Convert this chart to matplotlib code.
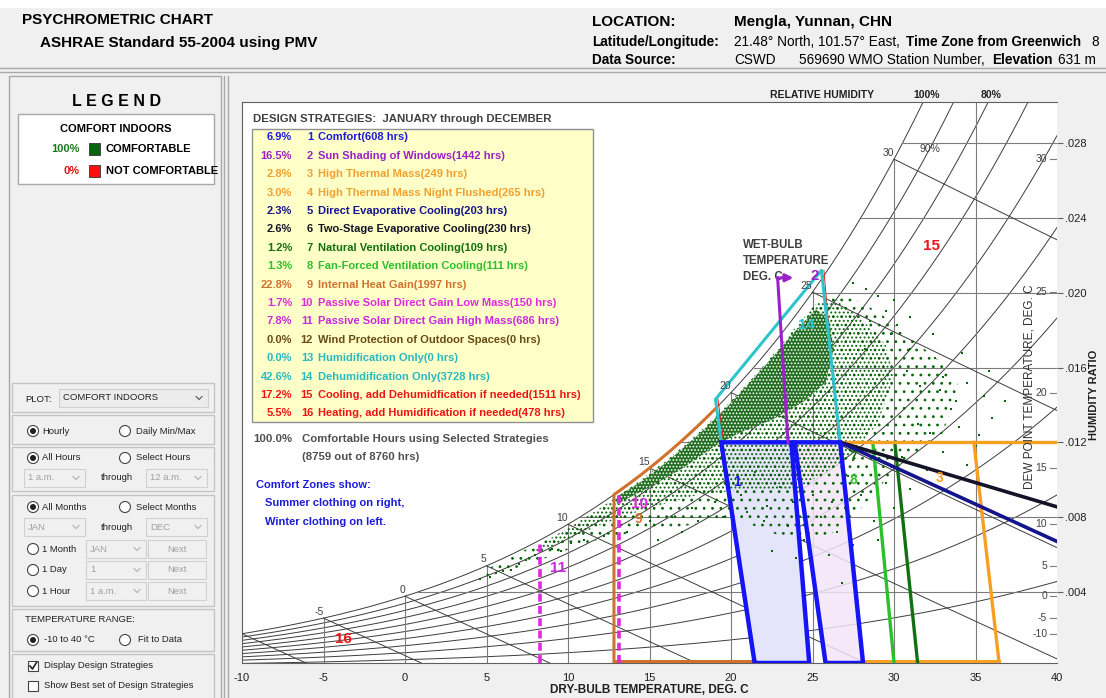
import numpy as np
import matplotlib.pyplot as plt
from matplotlib.patches import Rectangle, Polygon, Circle
from matplotlib.transforms import offset_copy, blended_transform_factory

plt.rcParams['font.family'] = ['Liberation Sans', 'DejaVu Sans']

# ------------------------------------------------------------------
# values
# ------------------------------------------------------------------
strategy_pct = ['6.9%', '16.5%', '2.8%', '3.0%', '2.3%', '2.6%', '1.2%', '1.3%',
                '22.8%', '1.7%', '7.8%', '0.0%', '0.0%', '42.6%', '17.2%', '5.5%']
strategy_names = ['Comfort(608 hrs)',
                  'Sun Shading of Windows(1442 hrs)',
                  'High Thermal Mass(249 hrs)',
                  'High Thermal Mass Night Flushed(265 hrs)',
                  'Direct Evaporative Cooling(203 hrs)',
                  'Two-Stage Evaporative Cooling(230 hrs)',
                  'Natural Ventilation Cooling(109 hrs)',
                  'Fan-Forced Ventilation Cooling(111 hrs)',
                  'Internal Heat Gain(1997 hrs)',
                  'Passive Solar Direct Gain Low Mass(150 hrs)',
                  'Passive Solar Direct Gain High Mass(686 hrs)',
                  'Wind Protection of Outdoor Spaces(0 hrs)',
                  'Humidification Only(0 hrs)',
                  'Dehumidification Only(3728 hrs)',
                  'Cooling, add Dehumidfication if needed(1511 hrs)',
                  'Heating, add Humidification if needed(478 hrs)']
strategy_colors = ['#1c1cd8', '#9a22c8', '#f0a030', '#f0a030', '#14148c', '#141428',
                   '#127012', '#2cc02c', '#d0722e', '#e028e0', '#c828e0', '#6a4a14',
                   '#28b8c0', '#28b8c0', '#ee1414', '#ee1414']

x_ticks = [-10, -5, 0, 5, 10, 15, 20, 25, 30, 35, 40]
w_ticks = [0.004, 0.008, 0.012, 0.016, 0.020, 0.024, 0.028]
rh_levels = [0.1, 0.2, 0.3, 0.4, 0.5, 0.6, 0.7, 0.8, 0.9, 1.0]
wb_levels = [-10, -5, 0, 5, 10, 15, 20, 25, 30]
dp_levels = [-10, -5, 0, 5, 10, 15, 20, 25, 30]

# design strategy zones (dry bulb deg C, humidity ratio)
winter_t = [19.4, 23.7, 24.8, 21.45]
winter_w = [0.012, 0.012, 0.0002, 0.0002]
summer_t = [23.9, 26.7, 28.1, 25.8]
summer_w = [0.012, 0.012, 0.0002, 0.0002]
dehum_t = [19.4, 19.05, 25.55, 26.7]
dehum_w = [0.012, 0.0143, 0.0212, 0.012]
shade_t = [23.5, 22.86, 24.0]
shade_w = [0.012, 0.0208, 0.0208]
heat_gain_t = [12.82, 19.05]
solar_low_t = 13.13
solar_high_t = 8.26
fan_t = [28.7, 30.0]
natvent_t = [30.05, 31.45]
vent_w = [0.012, 0.0002]
mass_t = [26.7, 40.0]
mass_w = [0.012, 0.012]
mass_edge_t = [34.9, 36.45]
mass_edge_w = [0.012, 0.0002]
evap_t = [26.7, 40.0]
evap_w = [0.012, 0.0067]
twostage_w = [0.012, 0.00855]

# hourly weather points: dense body outlined, scattered hours listed
cloud_outer_t = [5.0, 7, 9, 11, 13, 15, 17, 19, 21, 23, 24.5, 25.5, 27, 29, 31, 33, 34,
                 33, 30, 28, 26, 23, 20, 17, 14, 11, 8, 5.0]
cloud_outer_w = [0.0052, 0.0061, 0.0069, 0.0079, 0.0090, 0.0103, 0.0117, 0.0133,
                 0.0151, 0.0170, 0.0187, 0.0197, 0.0199, 0.0190, 0.0176, 0.0162,
                 0.0150, 0.0125, 0.0105, 0.0085, 0.0070, 0.0070, 0.0080, 0.0075,
                 0.0072, 0.0066, 0.0056, 0.0048]
cloud_mid_t = [8, 10, 12, 14, 16, 18, 20, 22, 24, 25.3, 26.5, 28, 29.5, 30, 29, 27,
               24, 21, 18, 15, 12, 9.5, 8]
cloud_mid_w = [0.0064, 0.0074, 0.0085, 0.0097, 0.0110, 0.0125, 0.0142, 0.0161,
               0.0182, 0.0195, 0.0196, 0.0186, 0.0172, 0.0155, 0.0130, 0.0110,
               0.0095, 0.0095, 0.0092, 0.0085, 0.0076, 0.0066, 0.0061]
cloud_core_t = [13, 14.5, 16, 18, 20, 22, 24, 25.2, 26, 26.3, 25.8, 24.5, 22.5, 20.5,
                19, 17, 15, 13]
cloud_core_w = [0.0091, 0.0099, 0.0109, 0.0124, 0.0141, 0.0160, 0.0180, 0.0191,
                0.0186, 0.0170, 0.0152, 0.0142, 0.0132, 0.0125, 0.0118, 0.0106,
                0.0096, 0.0087]
hour_t = [28.5, 29.5, 30.2, 31.0, 32.5, 33.0, 34.5, 35.5, 33.8, 31.5, 32.2, 34.0,
          36.0, 35.0, 33.0, 30.5, 32.0, 34.5, 29.5, 31.0, 28.0, 30.0, 27.0, 25.5,
          28.8, 26.5, 27.5, 29.0, 26.0, 24.5, 23.5, 22.0, 21.0, 20.0, 19.5, 18.0,
          17.0, 15.5, 24.0, 25.0, 26.8, 22.5, 8.0, 6.5, 7.0, 9.0, 5.2, 6.0,
          27.5, 28.3, 29.0, 30.0, 31.0, 33.5, 35.2, 32.8, 30.8, 27.2, 23.0, 21.5,
          36.8, 35.8, 34.2, 32.4, 31.6, 29.8, 28.2, 26.2, 25.0, 23.8, 22.2, 20.6,
          19.0, 17.6, 16.4, 15.0, 13.6, 12.2, 11.0, 10.2, 9.6, 4.6, 5.6, 7.4]
hour_w = [0.0185, 0.0190, 0.0183, 0.0170, 0.0165, 0.0155, 0.0152, 0.0145, 0.0142,
          0.0130, 0.0125, 0.0128, 0.0133, 0.0118, 0.0115, 0.0112, 0.0105, 0.0108,
          0.0098, 0.0095, 0.0092, 0.0085, 0.0085, 0.0080, 0.0078, 0.0072, 0.0065,
          0.0068, 0.0060, 0.0068, 0.0075, 0.0078, 0.0083, 0.0090, 0.0080, 0.0078,
          0.0072, 0.0068, 0.0058, 0.0050, 0.0045, 0.0062, 0.0060, 0.0052, 0.0055,
          0.0063, 0.0048, 0.0051, 0.0205, 0.0202, 0.0198, 0.0196, 0.0187, 0.0138,
          0.0124, 0.0148, 0.0158, 0.0102, 0.0096, 0.0104,
          0.0142, 0.0158, 0.0168, 0.0178, 0.0150, 0.0178, 0.0170, 0.0088, 0.0092,
          0.0088, 0.0086, 0.0092, 0.0088, 0.0085, 0.0080, 0.0078, 0.0072, 0.0070,
          0.0068, 0.0066, 0.0062, 0.0047, 0.0050, 0.0057]

# ------------------------------------------------------------------
# psychrometrics (sea level)
# ------------------------------------------------------------------
P_ATM = 101.325


def p_sat(t):
    return 0.61094 * np.exp(17.625 * t / (t + 243.04))


def w_from_rh(t, rh):
    p = rh * p_sat(t)
    return 0.622 * p / (P_ATM - p)


def t_from_w(w, rh):
    p = P_ATM * w / (0.622 + w) / rh
    a = np.log(p / 0.61094)
    return 243.04 * a / (17.625 - a)


def w_from_wb(t, twb):
    ws = w_from_rh(twb, 1.0)
    return ((2501 - 2.326 * twb) * ws - 1.006 * (t - twb)) / (2501 + 1.86 * t - 4.186 * twb)


# ------------------------------------------------------------------
# figure, background (pixel coordinates) and chart axes
# ------------------------------------------------------------------
fig = plt.figure(figsize=(11.06, 6.98), dpi=100)
fig.patch.set_facecolor('#f0f0f0')

bg = fig.add_axes([0, 0, 1, 1], zorder=0)
bg.set_xlim(0, 1106)
bg.set_ylim(698, 0)
bg.axis('off')

W_TOP = 0.0302
ax = fig.add_axes([242 / 1106, 1 - 663 / 698, 815 / 1106, 561 / 698], zorder=1)
ax.set_xlim(-10, 40)
ax.set_ylim(0.0002, W_TOP)
ax.set_facecolor('white')

ov = fig.add_axes([0, 0, 1, 1], zorder=2)
ov.set_xlim(0, 1106)
ov.set_ylim(698, 0)
ov.axis('off')
ov.patch.set_visible(False)

edge = '#a8a8a8'

# header
bg.add_patch(Rectangle((0, 0), 1106, 8, facecolor='white', edgecolor='none'))
bg.plot([0, 1106], [68, 68], color=edge, lw=1)
bg.plot([0, 1106], [72, 72], color=edge, lw=1)
bg.text(22, 20, 'PSYCHROMETRIC CHART', fontsize=11, fontweight='bold', va='center')
bg.text(40, 43, 'ASHRAE Standard 55-2004 using PMV', fontsize=11, fontweight='bold', va='center')
bg.text(592, 22, 'LOCATION:', fontsize=11, fontweight='bold', va='center')
bg.text(734, 22, 'Mengla, Yunnan, CHN', fontsize=11, fontweight='bold', va='center')
bg.text(592, 42, 'Latitude/Longitude:', fontsize=9.8, fontweight='bold', va='center')
bg.text(734, 42, '21.48° North, 101.57° East,', fontsize=9.8, va='center')
bg.text(906, 42, 'Time Zone from Greenwich', fontsize=9.8, fontweight='bold', va='center')
bg.text(1091, 42, '8', fontsize=9.8, va='center')
bg.text(592, 60, 'Data Source:', fontsize=9.8, fontweight='bold', va='center')
bg.text(734, 60, 'CSWD', fontsize=9.8, va='center')
bg.text(799, 60, '569690 WMO Station Number,', fontsize=9.8, va='center')
bg.text(992, 60, 'Elevation', fontsize=9.8, fontweight='bold', va='center')
bg.text(1058, 60, '631 m', fontsize=9.8, va='center')

# left panel
bg.add_patch(Rectangle((9, 76), 212, 630, facecolor='none', edgecolor=edge, lw=1))
bg.plot([224, 224], [76, 698], color=edge, lw=1)
bg.plot([228, 228], [76, 698], color=edge, lw=1)
bg.text(117, 101, 'L E G E N D', fontsize=11.5, fontweight='bold', ha='center', va='center')
bg.add_patch(Rectangle((18, 114), 196, 70, facecolor='white', edgecolor=edge, lw=1))
bg.text(116, 129, 'COMFORT INDOORS', fontsize=8, fontweight='bold', ha='center', va='center')
bg.text(80, 149, '100%', fontsize=8, fontweight='bold', ha='right', va='center', color='#1a7a1a')
bg.add_patch(Rectangle((89, 143), 11, 12, facecolor='#0a640a', edgecolor='#333333', lw=0.6))
bg.text(106, 149, 'COMFORTABLE', fontsize=8, fontweight='bold', va='center')
bg.text(80, 171, '0%', fontsize=8, fontweight='bold', ha='right', va='center', color='#e01010')
bg.add_patch(Rectangle((89, 165), 11, 12, facecolor='#ff1010', edgecolor='#333333', lw=0.6))
bg.text(106, 171, 'NOT COMFORTABLE', fontsize=8, fontweight='bold', va='center')

wfont = dict(fontsize=6.8, va='center', color='#222222')
gfont = dict(fontsize=6.8, va='center', color='#a0a0a0')


def group(y0, y1):
    bg.add_patch(Rectangle((12, y0), 202, y1 - y0, facecolor='none', edgecolor='#c4c4c4', lw=1))


def radio(x, y, on):
    bg.add_patch(Circle((x, y), 5.5, facecolor='white', edgecolor='#444444', lw=0.8))
    if on:
        bg.add_patch(Circle((x, y), 3, facecolor='#222222', edgecolor='none'))


def box(x0, y0, x1, y1, text, enabled=False, center=False):
    bg.add_patch(Rectangle((x0, y0), x1 - x0, y1 - y0, facecolor='#ececec' if enabled else '#f0f0f0',
                           edgecolor='#d0d0d0', lw=0.8))
    if center:
        bg.text((x0 + x1) / 2, (y0 + y1) / 2, text, ha='center', **gfont)
    else:
        bg.text(x0 + 4, (y0 + y1) / 2, text, **(wfont if enabled else gfont))
        cx = x1 - 9
        cy = (y0 + y1) / 2
        bg.plot([cx - 3, cx, cx + 3], [cy - 1.5, cy + 1.5, cy - 1.5],
                color='#555555' if enabled else '#b0b0b0', lw=0.8)


group(383, 412)
bg.text(25, 399, 'PLOT:', **wfont)
box(59, 389, 208, 407, 'COMFORT INDOORS', enabled=True)

group(415, 444)
radio(33, 431, True)
bg.text(42, 431, 'Hourly', **wfont)
radio(125, 431, False)
bg.text(136, 431, 'Daily Min/Max', **wfont)

group(447, 491)
radio(33, 458, True)
bg.text(42, 458, 'All Hours', **wfont)
radio(125, 458, False)
bg.text(136, 458, 'Select Hours', **wfont)
box(24, 469, 85, 487, '1 a.m.')
bg.text(117, 478, 'through', ha='center', **wfont)
box(146, 469, 207, 487, '12 a.m.')

group(495, 606)
radio(33, 507, True)
bg.text(42, 507, 'All Months', **wfont)
radio(125, 507, False)
bg.text(136, 507, 'Select Months', **wfont)
box(24, 518, 85, 536, 'JAN')
bg.text(117, 527, 'through', ha='center', **wfont)
box(146, 518, 207, 536, 'DEC')
for yy, lab, val in [(549, '1 Month', 'JAN'), (570, '1 Day', '1'), (591, '1 Hour', '1 a.m.')]:
    radio(33, yy, False)
    bg.text(42, yy, lab, **wfont)
    box(86, yy - 9, 146, yy + 9, val)
    box(148, yy - 9, 206, yy + 9, 'Next', center=True)

group(609, 651)
bg.text(25, 620, 'TEMPERATURE RANGE:', **wfont)
radio(33, 640, True)
bg.text(44, 640, '-10 to 40 °C', **wfont)
radio(125, 640, False)
bg.text(138, 640, 'Fit to Data', **wfont)

group(654, 700)
bg.add_patch(Rectangle((28, 661), 10, 10, facecolor='white', edgecolor='#444444', lw=0.8))
bg.plot([30, 32.5, 36.5], [666, 669, 662.5], color='#222222', lw=1.2)
bg.text(44, 666, 'Display Design Strategies', **wfont)
bg.add_patch(Rectangle((28, 681), 10, 10, facecolor='white', edgecolor='#444444', lw=0.8))
bg.text(44, 686, 'Show Best set of Design Strategies', **wfont)

# ------------------------------------------------------------------
# psychrometric grid
# ------------------------------------------------------------------
line_c = '#3c3c3c'
grid_c = '#7c7c7c'
tt = np.linspace(-10, 40, 500)
for rh in rh_levels:
    ax.plot(tt, w_from_rh(tt, rh), color=line_c, lw=0.7, zorder=1)
for t in x_ticks[1:-1]:
    ax.plot([t, t], [0, min(w_from_rh(t, 1.0), W_TOP)], color=grid_c, lw=0.8, zorder=1)
for w in w_ticks:
    ax.plot([t_from_w(w, 1.0), 40], [w, w], color=grid_c, lw=0.8, zorder=1)
wb_trans = offset_copy(ax.transData, fig=fig, x=0, y=1, units='points')
for twb in wb_levels:
    tw = np.linspace(twb, 40, 200)
    ww = w_from_wb(tw, twb)
    keep = ww >= 0
    ax.plot(tw[keep], ww[keep], color=line_c, lw=0.7, zorder=1)
    lab = ax.text(twb, w_from_rh(twb, 1.0), str(twb), transform=wb_trans, ha='right', va='bottom',
                  fontsize=7.5, color='#404040', zorder=5)
    lab.set_clip_on(True)
    lab.set_clip_box(ax.bbox)

# dew point ticks inside the right edge
for td in dp_levels:
    wd = w_from_rh(td, 1.0)
    ax.plot([39.55, 40], [wd, wd], color=grid_c, lw=0.8, zorder=1)
    ax.text(39.4, wd, str(td), ha='right', va='center', fontsize=7.5, color='#404040', zorder=5)

# relative humidity labels
rh_trans = blended_transform_factory(ax.transData, bg.transData)
for rh, lab in [(1.0, '100%'), (0.8, '80%')]:
    ax.text(t_from_w(W_TOP, rh) + 0.2, 95, lab, transform=rh_trans, ha='center', va='center',
            fontsize=7.5, fontweight='bold', color='#202020', clip_on=False)
ax.text(t_from_w(0.0277, 0.9), 0.0277, '90%', ha='center', va='center', fontsize=7.5, color='#404040')

# ------------------------------------------------------------------
# hourly data
# ------------------------------------------------------------------
green = '#0a640a'
plt.rcParams['hatch.linewidth'] = 0.8
ax.add_patch(Polygon(np.column_stack([cloud_outer_t, cloud_outer_w]), closed=True,
                     facecolor='none', edgecolor=green, lw=0, hatch='..', zorder=2))
plt.rcParams['hatch.linewidth'] = 0.9
ax.add_patch(Polygon(np.column_stack([cloud_mid_t, cloud_mid_w]), closed=True,
                     facecolor='none', edgecolor=green, lw=0, hatch='....', zorder=2))
plt.rcParams['hatch.linewidth'] = 0.8
ax.add_patch(Polygon(np.column_stack([cloud_core_t, cloud_core_w]), closed=True,
                     facecolor='#226f22', edgecolor='white', lw=0, hatch='.....', zorder=2))
ax.scatter(hour_t, hour_w, s=3, marker='s', color=green, lw=0, zorder=2)

# ------------------------------------------------------------------
# design strategies
# ------------------------------------------------------------------
blue = '#1414f5'
ax.fill(winter_t, winter_w, color='#e4e4fa', zorder=1.5, lw=0)
ax.fill(summer_t, summer_w, color='#f3e4f8', alpha=0.85, zorder=1.5, lw=0)
ax.fill(winter_t, winter_w, fill=False, edgecolor=blue, lw=3.2, zorder=4)
ax.fill(summer_t, summer_w, fill=False, edgecolor=blue, lw=3.2, zorder=4)

ax.plot(dehum_t, dehum_w, color='#2ec4cc', lw=2.2, zorder=3.5)
ax.plot([dehum_t[0] + 0.15, dehum_t[1] + 0.15], dehum_w[:2], color='#e02020', lw=0.7, zorder=3.4)
ax.plot([dehum_t[2] + 0.15, dehum_t[3] - 0.1], dehum_w[2:], color='#e02020', lw=0.7, zorder=3.4)

ax.plot(shade_t[:2], shade_w[:2], color='#9a22c8', lw=2.2, zorder=4)
ax.annotate('', xy=(shade_t[2], shade_w[2]), xytext=(shade_t[1], shade_w[1]),
            arrowprops=dict(arrowstyle='-|>', color='#9a22c8', lw=2.2, mutation_scale=11), zorder=4)

hg = np.linspace(heat_gain_t[0], heat_gain_t[1], 60)
ax.plot(np.r_[heat_gain_t[0], hg], np.r_[0.0002, w_from_rh(hg, 1.0)], color='#d0722e', lw=2.2, zorder=3)
ax.plot([heat_gain_t[0], winter_t[3]], [0.0003, 0.0003], color='#d0722e', lw=2.2, zorder=3)
ax.plot([summer_t[2], mass_edge_t[1]], [0.0003, 0.0003], color='#f5a020', lw=2.2, zorder=3)

for tv in [solar_low_t, solar_high_t]:
    ax.plot([tv, tv], [0.0002, w_from_rh(tv, 0.99)], color='#e028e0', lw=2.6,
            dashes=(2.2, 1.2), zorder=3)

ax.plot(fan_t, vent_w, color='#2cc02c', lw=2.4, zorder=3)
ax.plot(natvent_t, vent_w, color='#127012', lw=2.4, zorder=3)
ax.plot(mass_t, mass_w, color='#f5a020', lw=2.4, zorder=3)
ax.plot(mass_edge_t, mass_edge_w, color='#f5a020', lw=2.4, zorder=3)
ax.plot(evap_t, evap_w, color='#14148c', lw=2.6, zorder=3.2)
ax.plot(evap_t, twostage_w, color='#141428', lw=2.6, zorder=3.1)

zone_labels = [('1', 20.37, 0.0099, blue, 10), ('7', 27.5, 0.0112, '#127012', 10),
               ('8', 27.5, 0.0100, '#2cc02c', 10), ('3', 32.8, 0.0101, '#f5a020', 10),
               ('10', 14.4, 0.0087, '#e028e0', 11), ('9', 14.3, 0.0079, '#d0722e', 10),
               ('11', 9.4, 0.0053, '#c828e0', 11), ('16', -3.8, 0.0015, '#ee1414', 11),
               ('15', 32.3, 0.0225, '#ee1414', 11), ('14', 24.66, 0.0183, '#2ec4cc', 11),
               ('2', 25.15, 0.0209, '#9a22c8', 11)]
for s, lx, ly, c, fs in zone_labels:
    ax.text(lx, ly, s, color=c, fontsize=fs, fontweight='bold', ha='center', va='center', zorder=4.5)

# ------------------------------------------------------------------
# axes, ticks and titles
# ------------------------------------------------------------------
for sp in ax.spines.values():
    sp.set_color('#606060')
    sp.set_linewidth(0.8)
ax.spines['right'].set_visible(False)
ax.set_xticks(x_ticks)
ax.set_xticklabels([str(v) for v in x_ticks])
ax.tick_params(axis='x', length=0, pad=7, labelsize=8, labelcolor='#202020')
ax.yaxis.tick_right()
ax.set_yticks(w_ticks)
ax.set_yticklabels(['.' + f'{v:.3f}'.split('.')[1] for v in w_ticks])
ax.tick_params(axis='y', length=4, pad=2, labelsize=8, labelcolor='#202020', color='#606060')

bg.text(822, 95, 'RELATIVE HUMIDITY', fontsize=7.5, fontweight='bold', ha='center', va='center', color='#202020')
bg.text(649, 690, 'DRY-BULB TEMPERATURE, DEG. C', fontsize=8.5, fontweight='bold', ha='center', va='center',
        color='#202020')
bg.text(1094, 395, 'HUMIDITY RATIO', fontsize=8, fontweight='bold', rotation=90, ha='center', va='center',
        color='#202020')
ax.text(1030, 387, 'DEW POINT TEMPERATURE, DEG. C', transform=bg.transData, fontsize=8.5,
        rotation=90, ha='center', va='center', color='#303030', zorder=5)
for i, s in enumerate(['WET-BULB', 'TEMPERATURE', 'DEG. C']):
    ax.text(743, 245 + 16 * i, s, transform=bg.transData, fontsize=8.3, fontweight='bold',
            va='center', color='#404040', zorder=3.9)

# design strategy panel
ov.text(253, 119, 'DESIGN STRATEGIES:  JANUARY through DECEMBER', fontsize=8.2, fontweight='bold',
        va='center', color='#404040')
ov.add_patch(Rectangle((252, 129), 341, 293, facecolor='#ffffc8', edgecolor='#909090', lw=1))
for i in range(len(strategy_names)):
    yy = 137.3 + 18.4 * i
    c = strategy_colors[i]
    ov.text(292, yy, strategy_pct[i], ha='right', va='center', fontsize=8, fontweight='bold', color=c)
    ov.text(313, yy, str(i + 1), ha='right', va='center', fontsize=8, fontweight='bold', color=c)
    ov.text(318, yy, strategy_names[i], va='center', fontsize=8, fontweight='bold', color=c)
ov.text(292, 439, '100.0%', ha='right', va='center', fontsize=8.2, fontweight='bold', color='#505050')
ov.text(302, 439, 'Comfortable Hours using Selected Strategies', va='center', fontsize=8.2,
        fontweight='bold', color='#505050')
ov.text(302, 457, '(8759 out of 8760 hrs)', va='center', fontsize=8.2, fontweight='bold', color='#505050')
ov.text(256, 485, 'Comfort Zones show:', va='center', fontsize=8, fontweight='bold', color='#1c1cd8')
ov.text(265, 503, 'Summer clothing on right,', va='center', fontsize=8, fontweight='bold', color='#1c1cd8')
ov.text(265, 522, 'Winter clothing on left.', va='center', fontsize=8, fontweight='bold', color='#1c1cd8')

fig.savefig('out.png', dpi=100, facecolor=fig.get_facecolor())
